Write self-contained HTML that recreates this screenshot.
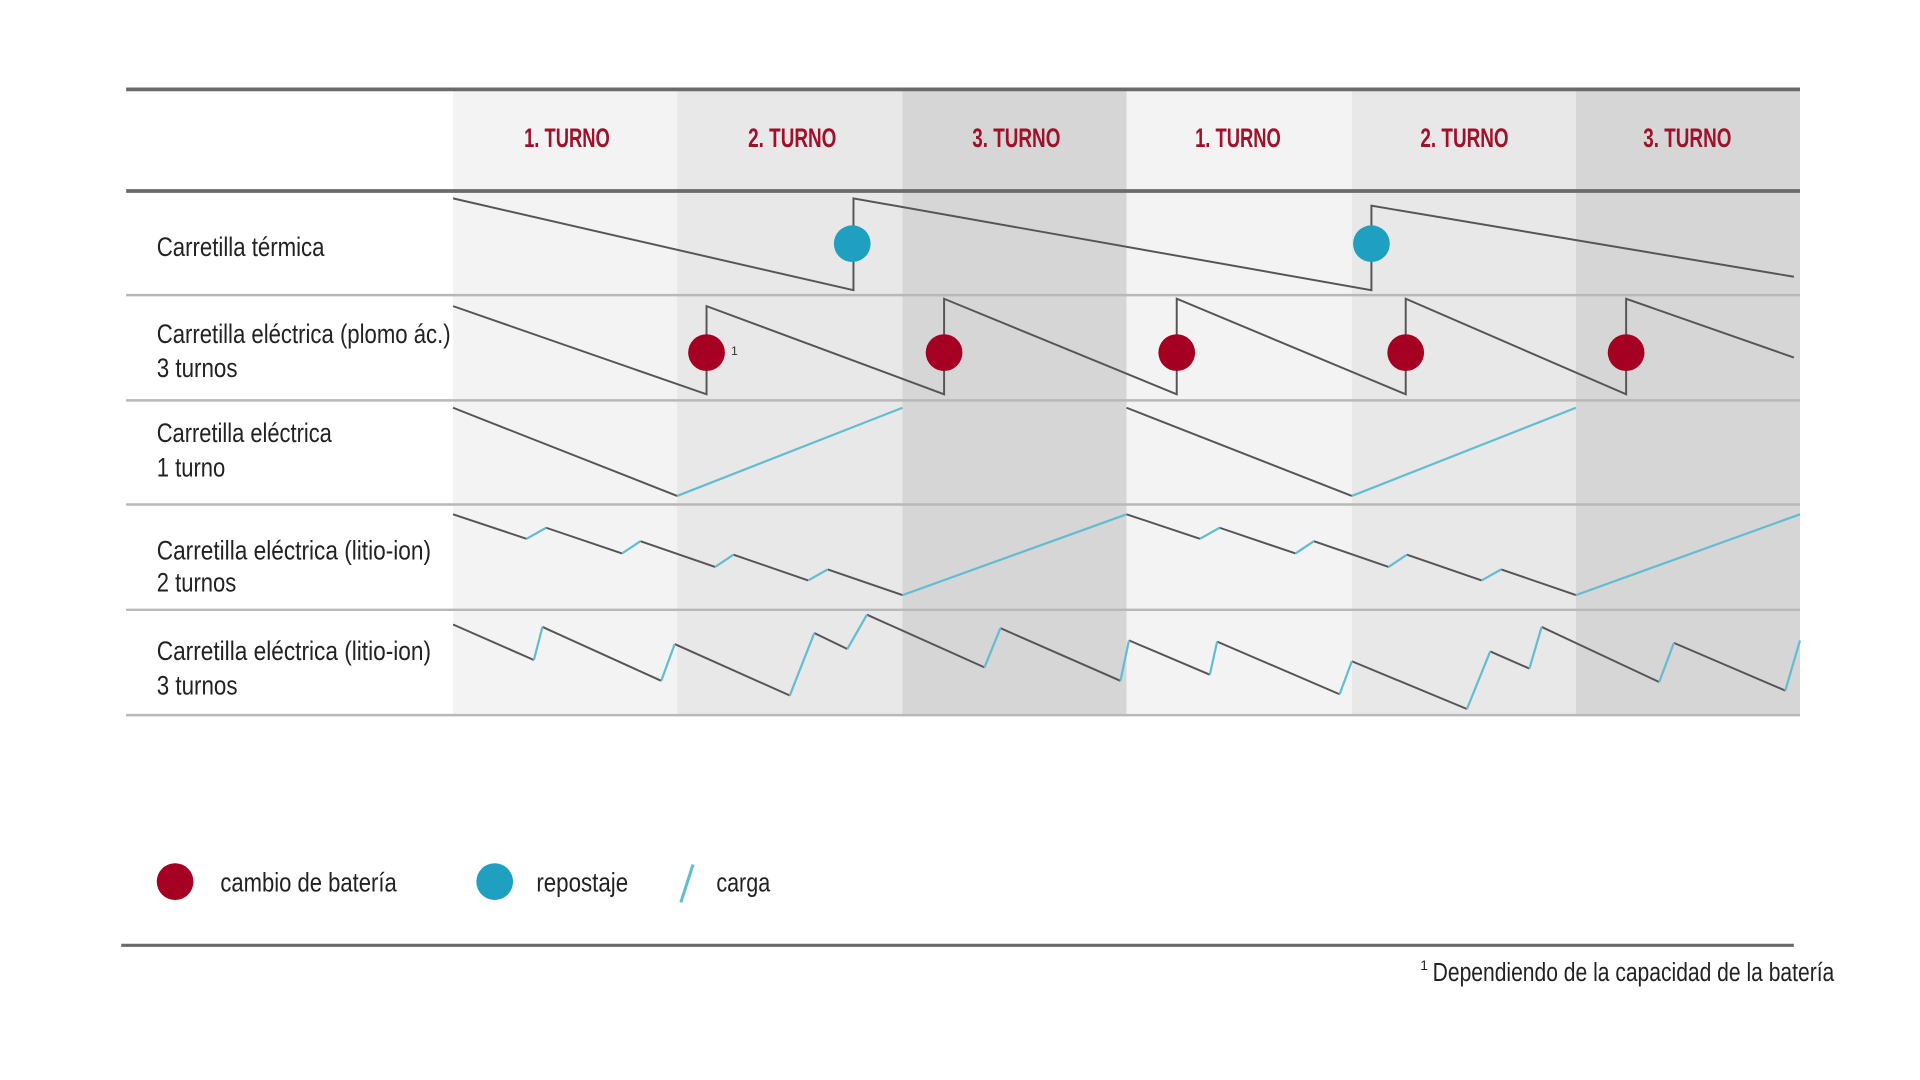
<!DOCTYPE html>
<html><head><meta charset="utf-8"><style>
html,body{margin:0;padding:0;background:#fff;}
svg{display:block;}
text{font-family:"Liberation Sans",sans-serif;}
</style></head><body>
<svg width="1920" height="1080" viewBox="0 0 1568 882" xmlns="http://www.w3.org/2000/svg">
<rect width="1568" height="882" fill="#fff"/>
<g>
<rect x="370" y="72" width="183" height="512" fill="#f3f3f3"/>
<rect x="553" y="72" width="184" height="512" fill="#e8e8e8"/>
<rect x="737" y="72" width="183" height="512" fill="#d6d6d6"/>
<rect x="920" y="72" width="184" height="512" fill="#f3f3f3"/>
<rect x="1104" y="72" width="183" height="512" fill="#e8e8e8"/>
<rect x="1287" y="72" width="183" height="512" fill="#d6d6d6"/>
</g>
<line x1="103" y1="73" x2="1470" y2="73" stroke="#6a6a6a" stroke-width="3"/>
<line x1="103" y1="156" x2="1470" y2="156" stroke="#6a6a6a" stroke-width="3"/>
<g stroke="#b8b8b8" stroke-width="2">
<line x1="103" y1="241" x2="1470" y2="241"/>
<line x1="103" y1="327" x2="1470" y2="327"/>
<line x1="103" y1="412" x2="1470" y2="412"/>
<line x1="103" y1="498" x2="1470" y2="498"/>
<line x1="103" y1="584" x2="1470" y2="584"/>
</g>
<g fill="#a0102a" font-size="22" font-weight="bold" lengthAdjust="spacingAndGlyphs">
<text x="428" y="120" textLength="70" lengthAdjust="spacingAndGlyphs">1. TURNO</text>
<text x="611" y="120" textLength="72" lengthAdjust="spacingAndGlyphs">2. TURNO</text>
<text x="794" y="120" textLength="72" lengthAdjust="spacingAndGlyphs">3. TURNO</text>
<text x="976" y="120" textLength="70" lengthAdjust="spacingAndGlyphs">1. TURNO</text>
<text x="1160" y="120" textLength="72" lengthAdjust="spacingAndGlyphs">2. TURNO</text>
<text x="1342" y="120" textLength="72" lengthAdjust="spacingAndGlyphs">3. TURNO</text>
</g>
<g fill="#222" font-size="22">
<text x="128" y="209" textLength="137" lengthAdjust="spacingAndGlyphs">Carretilla térmica</text>
<text x="128" y="280" textLength="240" lengthAdjust="spacingAndGlyphs">Carretilla eléctrica (plomo ác.)</text>
<text x="128" y="308" textLength="66" lengthAdjust="spacingAndGlyphs">3 turnos</text>
<text x="128" y="361" textLength="143" lengthAdjust="spacingAndGlyphs">Carretilla eléctrica</text>
<text x="128" y="389" textLength="56" lengthAdjust="spacingAndGlyphs">1 turno</text>
<text x="128" y="457" textLength="224" lengthAdjust="spacingAndGlyphs">Carretilla eléctrica (litio-ion)</text>
<text x="128" y="483" textLength="65" lengthAdjust="spacingAndGlyphs">2 turnos</text>
<text x="128" y="539" textLength="224" lengthAdjust="spacingAndGlyphs">Carretilla eléctrica (litio-ion)</text>
<text x="128" y="567" textLength="66" lengthAdjust="spacingAndGlyphs">3 turnos</text>
</g>
<g fill="none" stroke="#555" stroke-width="1.6">
<polyline points="370,162 697,237 697,162 1120,237 1120,168 1465,226"/>
<polyline points="370,250 577,322 577,250 771,322 771,244 961,322 961,244 1148,322 1148,244 1328,322 1328,244 1465,292"/>
<polyline points="370,333 553,405"/>
<polyline points="920,333 1104,405"/>
</g>
<g fill="none" stroke="#62bcd2" stroke-width="1.8">
<line x1="553" y1="405" x2="737" y2="333"/>
<line x1="1104" y1="405" x2="1287" y2="333"/>
</g>
<g fill="none" stroke-width="1.6">
<g stroke="#555">
<line x1="370" y1="420" x2="430" y2="440"/><line x1="446" y1="431" x2="508" y2="452"/><line x1="523" y1="442" x2="584" y2="463"/><line x1="599" y1="453" x2="660" y2="474"/><line x1="676" y1="465" x2="737" y2="486"/>
<line x1="920" y1="420" x2="980" y2="440"/><line x1="996" y1="431" x2="1058" y2="452"/><line x1="1073" y1="442" x2="1134" y2="463"/><line x1="1149" y1="453" x2="1210" y2="474"/><line x1="1226" y1="465" x2="1287" y2="486"/>
</g>
<g stroke="#62bcd2" stroke-width="1.8">
<line x1="430" y1="440" x2="446" y2="431"/><line x1="508" y1="452" x2="523" y2="442"/><line x1="584" y1="463" x2="599" y2="453"/><line x1="660" y1="474" x2="676" y2="465"/><line x1="737" y1="486" x2="920" y2="420"/>
<line x1="980" y1="440" x2="996" y2="431"/><line x1="1058" y1="452" x2="1073" y2="442"/><line x1="1134" y1="463" x2="1149" y2="453"/><line x1="1210" y1="474" x2="1226" y2="465"/><line x1="1287" y1="486" x2="1470" y2="420"/>
</g>
</g>
<g fill="none" stroke-width="1.6">
<g stroke="#555">
<line x1="370" y1="510" x2="436" y2="539"/><line x1="443" y1="512" x2="540" y2="556"/><line x1="551" y1="526" x2="645" y2="568"/><line x1="665" y1="517" x2="692" y2="530"/><line x1="708" y1="502" x2="804" y2="545"/><line x1="817" y1="513" x2="915" y2="556"/><line x1="922" y1="523" x2="988" y2="551"/><line x1="994" y1="524" x2="1094" y2="567"/><line x1="1104" y1="540" x2="1198" y2="579"/><line x1="1217" y1="532" x2="1249" y2="546"/><line x1="1259" y1="512" x2="1355" y2="557"/><line x1="1367" y1="525" x2="1458" y2="564"/>
</g>
<g stroke="#62bcd2" stroke-width="1.8">
<line x1="436" y1="539" x2="443" y2="512"/><line x1="540" y1="556" x2="551" y2="526"/><line x1="645" y1="568" x2="665" y2="517"/><line x1="692" y1="530" x2="708" y2="502"/><line x1="804" y1="545" x2="817" y2="513"/><line x1="915" y1="556" x2="922" y2="523"/><line x1="988" y1="551" x2="994" y2="524"/><line x1="1094" y1="567" x2="1104" y2="540"/><line x1="1198" y1="579" x2="1217" y2="532"/><line x1="1249" y1="546" x2="1259" y2="512"/><line x1="1355" y1="557" x2="1367" y2="525"/><line x1="1458" y1="564" x2="1470" y2="523"/>
</g>
</g>
<g fill="#1fa0c0"><circle cx="696" cy="199" r="15"/><circle cx="1120" cy="199" r="15"/></g>
<g fill="#a50022"><circle cx="577" cy="288" r="15"/><circle cx="771" cy="288" r="15"/><circle cx="961" cy="288" r="15"/><circle cx="1148" cy="288" r="15"/><circle cx="1328" cy="288" r="15"/></g>
<text x="597" y="290" font-size="10" fill="#333">1</text>
<circle cx="143" cy="720" r="15" fill="#a50022"/>
<text x="180" y="728" font-size="22" fill="#222" textLength="144" lengthAdjust="spacingAndGlyphs">cambio de batería</text>
<circle cx="404" cy="720" r="15" fill="#1fa0c0"/>
<text x="438" y="728" font-size="22" fill="#222" textLength="75" lengthAdjust="spacingAndGlyphs">repostaje</text>
<line x1="556" y1="737" x2="566" y2="706" stroke="#62bcd2" stroke-width="2.5"/>
<text x="585" y="728" font-size="22" fill="#222" textLength="44" lengthAdjust="spacingAndGlyphs">carga</text>
<line x1="99" y1="772" x2="1465" y2="772" stroke="#6a6a6a" stroke-width="2.5"/>
<text x="1160" y="792" font-size="11" fill="#222">1</text>
<text x="1170" y="801" font-size="21" fill="#222" textLength="328" lengthAdjust="spacingAndGlyphs">Dependiendo de la capacidad de la batería</text>
</svg>
</body></html>
